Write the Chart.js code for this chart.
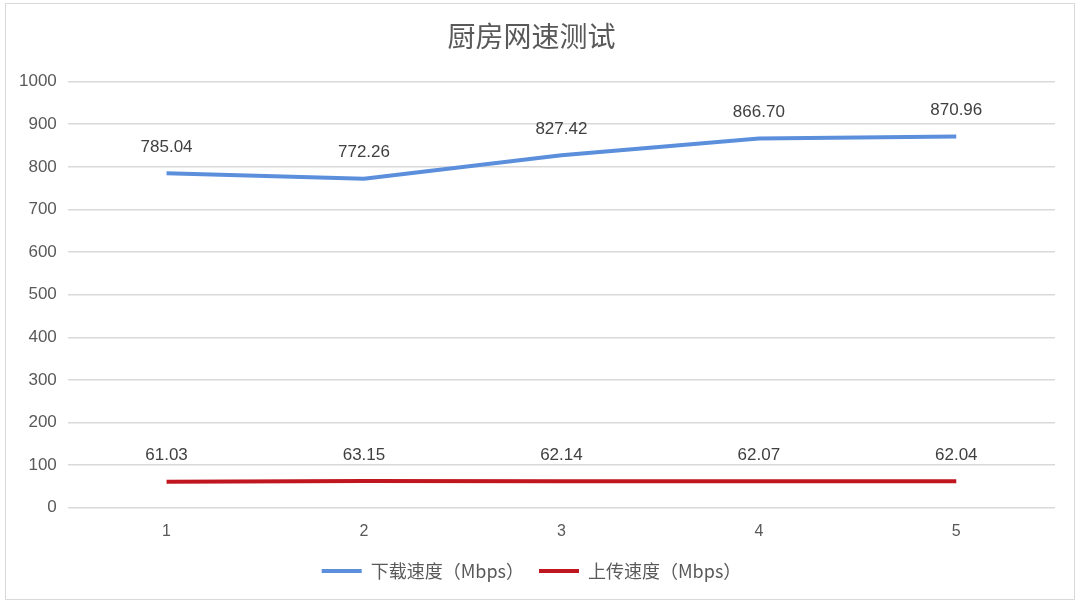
<!DOCTYPE html>
<html>
<head>
<meta charset="utf-8">
<script src="https://cdn.jsdelivr.net/npm/chart.js@4"></script>
<style>
  html, body { margin: 0; padding: 0; background: #fff; }
  #box { position: absolute; left: 5px; top: 3px; width: 1070px; height: 597px; border: 1px solid #d9d9d9; box-sizing: border-box; }
  #wrap { position: absolute; left: 0; top: 0; width: 1080px; height: 605px; }
</style>
</head>
<body>
<div id="box"></div>
<div id="wrap"><canvas id="chart"></canvas></div>
<script>
// 数据
const labels = ['1', '2', '3', '4', '5'];
const downloadSpeed = [785.04, 772.26, 827.42, 866.70, 870.96];
const uploadSpeed = [61.03, 63.15, 62.14, 62.07, 62.04];

const FONT = "'Noto Sans CJK SC', 'Liberation Sans', sans-serif";
const NUM_FONT = "'Liberation Sans', Arial, sans-serif";

// 在点上方画数值
const valueLabels = {
  id: 'valueLabels',
  afterDatasetsDraw(chart) {
    const ctx = chart.ctx;
    ctx.save();
    ctx.font = "17px " + NUM_FONT;
    ctx.fillStyle = '#404040';
    ctx.textAlign = 'center';
    ctx.textBaseline = 'middle';
    chart.data.datasets.forEach((ds, i) => {
      chart.getDatasetMeta(i).data.forEach((pt, j) => {
        ctx.fillText(ds.data[j].toFixed(2), pt.x, pt.y - 26);
      });
    });
    ctx.restore();
  }
};

new Chart(document.getElementById('chart'), {
  type: 'line',
  data: {
    labels: labels,
    datasets: [
      {
        label: '下载速度（Mbps）',
        data: downloadSpeed,
        borderColor: '#5b8fdc',
        backgroundColor: '#5b8fdc',
        borderWidth: 4,
        pointRadius: 0,
        tension: 0
      },
      {
        label: '上传速度（Mbps）',
        data: uploadSpeed,
        borderColor: '#c0161f',
        backgroundColor: '#c0161f',
        borderWidth: 4,
        pointRadius: 0,
        tension: 0
      }
    ]
  },
  options: {
    responsive: true,
    maintainAspectRatio: false,
    animation: false,
    layout: { padding: { left: 8, right: 25, top: 10, bottom: 15 } },
    plugins: {
      title: {
        display: true,
        text: '厨房网速测试',
        color: '#595959',
        font: { size: 28, family: FONT, weight: 'normal' },
        padding: { top: 10, bottom: 28 }
      },
      legend: {
        position: 'bottom',
        labels: {
          usePointStyle: true,
          pointStyle: 'line',
          pointStyleWidth: 40,
          boxWidth: 40,
          boxHeight: 4,
          color: '#595959',
          padding: 15,
          font: { size: 18, family: FONT }
        }
      },
      tooltip: { enabled: false }
    },
    scales: {
      x: {
        offset: true,
        grid: { display: false },
        border: { display: false },
        ticks: { color: '#595959', font: { size: 16, family: NUM_FONT }, padding: 6 }
      },
      y: {
        min: 0,
        max: 1000,
        ticks: {
          stepSize: 100,
          color: '#595959',
          font: { size: 17, family: NUM_FONT },
          padding: 11,
          callback: v => String(v)
        },
        grid: { color: '#d9d9d9', lineWidth: 1.5, drawTicks: false },
        border: { display: false }
      }
    }
  },
  plugins: [valueLabels]
});
</script>
</body>
</html>
